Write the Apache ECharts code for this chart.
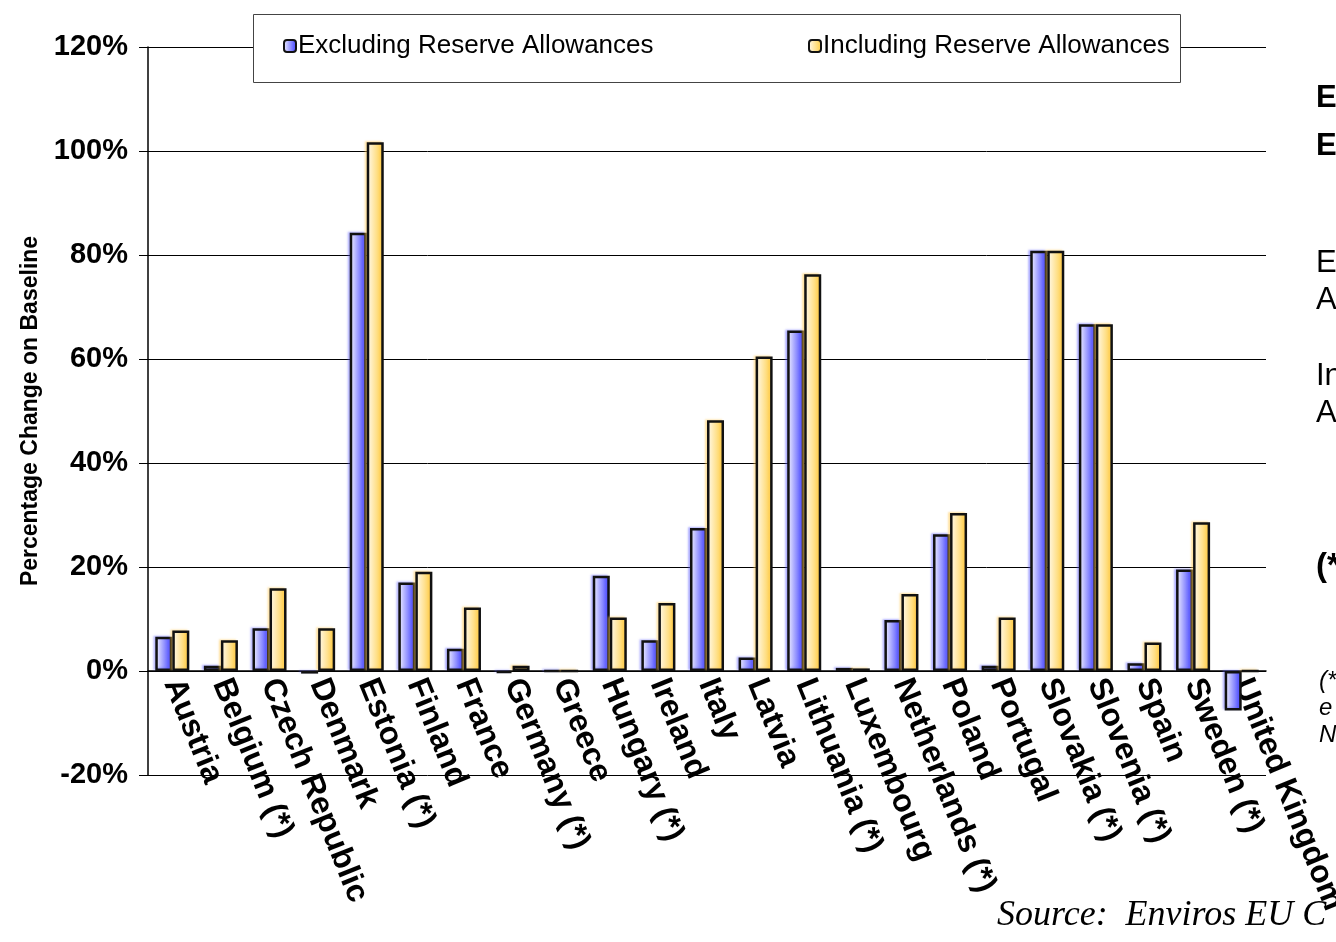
<!DOCTYPE html>
<html>
<head>
<meta charset="utf-8">
<script src="https://cdn.jsdelivr.net/npm/echarts@6/dist/echarts.min.js"></script>
<style>
html,body{margin:0;padding:0;background:#fff;overflow:hidden;}
#chart{width:1336px;height:942px;}
</style>
</head>
<body>
<div id="chart"></div>
<script>
const categories = ["Austria","Belgium (*)","Czech Republic","Denmark","Estonia (*)","Finland","France","Germany (*)","Greece","Hungary (*)","Ireland","Italy","Latvia","Lithuania (*)","Luxembourg","Netherlands (*)","Poland","Portugal","Slovakia (*)","Slovenia (*)","Spain","Sweden (*)","United Kingdom"];
const excludingReserve = [6.6, 1.0, 8.2, -0.5, 84.3, 17.0, 4.3, -0.4, 0, 18.3, 5.9, 27.5, 2.6, 65.5, 0.6, 9.8, 26.3, 1.0, 80.8, 66.7, 1.5, 19.5, -7.6];
const includingReserve = [7.8, 5.9, 15.9, 8.2, 101.7, 19.1, 12.2, 1.0, 0, 10.3, 13.1, 48.2, 60.5, 76.3, 0.5, 14.8, 30.4, 10.3, 80.8, 66.7, 5.5, 28.6, 0];
const seriesNames = ["Excluding Reserve Allowances", "Including Reserve Allowances"];
const yAxisTitle = "Percentage Change on Baseline";
const sourceText = "Source:  Enviros EU C";
const sideFragments = [
  {t: "E", y: 100, w: "bold", s: 31},
  {t: "E", y: 148, w: "bold", s: 31},
  {t: "E", y: 265, w: "normal", s: 31},
  {t: "A", y: 302, w: "normal", s: 31},
  {t: "In", y: 378, w: "normal", s: 31},
  {t: "A", y: 415, w: "normal", s: 31},
  {t: "(*", y: 569, w: "bold", s: 33}
];
const sideItalic = [
  {t: "(*", y: 682},
  {t: "e", y: 709},
  {t: "N", y: 736}
];

const FONT = "'Liberation Sans', Arial, Helvetica, sans-serif";
const W = 1336, H = 942;
const GRID = {left: 148, right: 70, top: 47, bottom: 167};
const Y_MIN = -20, Y_MAX = 120;
const zeroOffset = (H - GRID.top - GRID.bottom) * (0 - Y_MIN) / (Y_MAX - Y_MIN);

const blueGrad = new echarts.graphic.LinearGradient(0, 0, 1, 0, [
  {offset: 0, color: '#f6f6ff'}, {offset: 1, color: '#3a3aff'}
]);
const yellowGrad = new echarts.graphic.LinearGradient(0, 0, 1, 0, [
  {offset: 0, color: '#fffbf2'}, {offset: 1, color: '#ffcc3c'}
]);

const chart = echarts.init(document.getElementById('chart'), null, {renderer: 'canvas', width: W, height: H});

const graphics = [
  {type: 'rect', left: 253, top: 14, z: 3, shape: {width: 927, height: 68},
   style: {fill: '#fff', stroke: '#444', lineWidth: 1}},
  {type: 'text', left: 997, top: 898, z: 5,
   style: {text: sourceText, font: "italic 36px 'Liberation Serif', 'Times New Roman', serif", fill: '#000'}}
];
sideFragments.forEach(f => graphics.push({
  type: 'text', left: 1316, top: f.y - f.s * 0.55, z: 5,
  style: {text: f.t, font: f.w + ' ' + f.s + 'px ' + FONT, fill: '#000'}
}));
sideItalic.forEach(f => graphics.push({
  type: 'text', left: 1319, top: f.y - 13, z: 5,
  style: {text: f.t, font: 'italic 24px ' + FONT, fill: '#000'}
}));

const legendText = {fontFamily: FONT, fontSize: 26, color: '#000', padding: [0, 0, 0, -3]};

chart.setOption({
  animation: false,
  backgroundColor: '#fff',
  grid: Object.assign({containLabel: false, outerBoundsMode: 'none'}, GRID),
  legend: [
    {data: [seriesNames[0]], left: 283, top: 33, padding: 0, z: 6, itemWidth: 12, itemHeight: 12, itemGap: 0, textStyle: legendText},
    {data: [seriesNames[1]], left: 808, top: 33, padding: 0, z: 6, itemWidth: 12, itemHeight: 12, itemGap: 0, textStyle: legendText}
  ],
  xAxis: {
    type: 'category',
    data: categories,
    offset: -zeroOffset,
    axisLine: {onZero: false, lineStyle: {color: '#000', width: 1.5}},
    axisTick: {show: false},
    axisLabel: {rotate: -68, margin: 9, interval: 0, color: '#000', fontWeight: 'bold', fontSize: 32, fontFamily: FONT}
  },
  yAxis: {
    type: 'value',
    min: Y_MIN, max: Y_MAX, interval: 20,
    name: yAxisTitle,
    nameLocation: 'middle',
    nameRotate: 90,
    nameGap: 106,
    nameTextStyle: {color: '#000', fontWeight: 'bold', fontSize: 23, fontFamily: FONT},
    axisLine: {show: true, lineStyle: {color: '#000', width: 1.5}},
    axisTick: {show: true, length: 9, lineStyle: {color: '#000'}},
    axisLabel: {formatter: '{value}%', margin: 20, color: '#000', fontWeight: 'bold', fontSize: 29, fontFamily: FONT},
    splitLine: {show: true, lineStyle: {color: '#000', width: 1}}
  },
  series: [
    {name: seriesNames[0], type: 'bar', data: excludingReserve, barGap: '0%', barCategoryGap: '30%',
     itemStyle: {color: blueGrad, borderColor: '#111', borderWidth: 2.5,
                 shadowColor: 'rgba(90,90,255,0.35)', shadowBlur: 2, shadowOffsetX: -2, shadowOffsetY: -1}},
    {name: seriesNames[1], type: 'bar', data: includingReserve, barGap: '0%', barCategoryGap: '30%',
     itemStyle: {color: yellowGrad, borderColor: '#111', borderWidth: 2.5,
                 shadowColor: 'rgba(255,200,80,0.4)', shadowBlur: 2, shadowOffsetX: -2, shadowOffsetY: -1}}
  ],
  graphic: graphics
});
</script>
</body>
</html>
